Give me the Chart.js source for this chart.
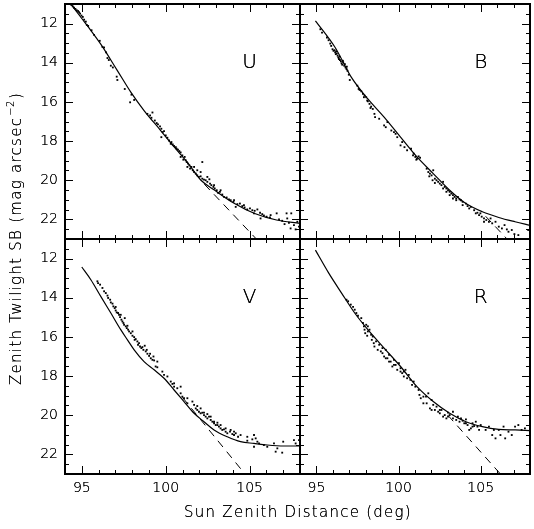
<!DOCTYPE html>
<html><head><meta charset="utf-8">
<script src="https://cdn.jsdelivr.net/npm/chart.js@4/dist/chart.umd.min.js"></script>
<style>
html,body{margin:0;padding:0;background:#fff;}
#wrap{position:relative;width:534px;height:529px;overflow:hidden;background:#fff;}
canvas{position:absolute;left:0;top:0;}
</style></head><body><div id="wrap">
<canvas id="c0" width="534" height="529"></canvas>
<canvas id="c1" width="534" height="529"></canvas>
<canvas id="c2" width="534" height="529"></canvas>
<canvas id="c3" width="534" height="529"></canvas>
</div>
<script>
// ---- axis / tick definitions ----
const xMin = 94, xMax = 108;
const yMin = 11, yMax = 23;
const xTickValues = [94,95,96,97,98,99,100,101,102,103,104,105,106,107,108];
const xLabelValues = [95,100,105];
const yTickValues = [11,11.5,12,12.5,13,13.5,14,14.5,15,15.5,16,16.5,17,17.5,18,18.5,19,19.5,20,20.5,21,21.5,22,22.5,23];
const yLabelValues = [12,14,16,18,20,22];
const panelNames = ['U','B','V','R'];
const xTitle = 'Sun Zenith Distance (deg)';
const yTitleMain = 'Zenith Twilight SB (mag arcsec';
const yTitleSup = '\u22122';
const yTitleEnd = ')';

// ---- U band ----
const uObs = [
[94.38,11.05],[94.46,11.12],[94.54,11.19],[94.62,11.25],[94.70,11.32],[94.78,11.36],[94.84,11.42],[94.90,11.49],[94.98,11.59],[95.06,11.66],[95.14,11.80],[95.24,11.90],[95.30,12.07],[95.38,12.12],[95.58,12.34],[95.73,12.58],[96.07,12.88],[96.23,13.19],[96.33,13.22],[96.45,13.47],[96.53,13.76],[96.61,13.86],[96.73,14.15],[96.85,14.24],[97.08,14.71],[97.12,14.88],[97.56,15.34],[97.88,16.02],[97.96,15.63],[98.12,15.90],
[98.91,16.61],[99.07,16.69],[99.21,16.54],[99.15,16.81],[99.35,16.95],[99.46,17.08],[99.54,17.15],[99.66,17.25],[99.74,17.37],[99.82,17.54],[99.74,17.80],[99.90,17.49],[100.00,17.71],[100.10,17.83],[100.20,17.97],[100.30,18.14],[100.34,18.05],[100.42,18.17],[100.50,18.25],[100.60,18.31],[100.65,18.39],[100.73,18.44],[100.81,18.51],[100.89,18.58],[100.89,18.81],[100.99,18.73],[101.05,18.95],[101.13,18.81],[101.19,18.98],[101.25,19.07],[101.33,19.15],[101.41,19.24],[101.29,19.32],[101.45,19.41],[101.53,19.32],[101.61,19.49],[101.69,19.58],[101.79,19.66],[101.88,19.75],[101.98,19.83],[102.08,19.80],[102.18,19.07],[102.18,19.92],[102.28,19.97],[102.38,20.00],[102.48,20.08],[102.60,19.95],[102.64,20.17],[102.72,20.25],[102.84,20.34],[102.92,20.42],[103.04,20.51],[103.12,20.64],[103.23,20.59],[103.37,20.73],[103.47,20.85],[103.63,20.88],[103.77,20.98],[103.87,21.02],[104.03,21.10],[104.17,21.36],[104.27,21.22],[104.42,21.19],[104.56,21.32],[104.70,21.39],[104.86,21.49],[105.02,21.44],[105.16,21.53],[105.30,21.56],[105.46,21.49],[105.62,21.66],[105.75,21.73],[105.85,21.80],[106.01,21.86],[106.21,21.90],[106.61,21.69],[106.75,22.00],[106.94,22.07],[107.08,22.24],[107.20,21.69],[107.24,21.95],[107.34,22.17],[107.44,22.46],[107.48,21.69],[107.64,22.29],[107.74,22.51],[107.84,22.12],[107.94,22.37],
[101.69,19.32],[101.88,19.49],[102.08,19.58],[102.48,19.83],[102.88,20.25],[103.27,20.51],[104.07,21.02],[104.66,21.27],[105.26,21.69],[105.65,21.95],[106.25,21.78]
];
const uModel = [[94.35,11.0],[95.0,11.74],[95.34,12.12],[96.13,13.05],[97.12,14.4],[97.92,15.5],[98.71,16.44],[99.7,17.46],[100.5,18.3],[101.3,19.1],[102.1,20.0],[102.9,20.5],[104.1,21.19],[105.3,21.7],[106.6,22.03],[108.0,22.2]];
const uNoGlow = [[102.3,20.2],[105.4,23.0]];

// ---- B band ----
const bObs = [
[95.24,12.29],[95.34,12.46],[95.64,12.71],[95.74,12.85],[95.84,13.02],[95.90,13.14],[95.98,13.31],[96.04,13.39],[96.14,13.47],[96.18,13.56],[96.24,13.53],[96.29,13.64],[96.33,13.73],[96.37,13.81],[96.43,13.86],[96.49,13.93],[96.53,14.03],[96.57,14.10],[96.63,13.98],[96.69,14.15],[96.77,14.24],[96.83,14.32],[96.89,14.41],[96.97,14.61],[97.03,14.88],[97.49,15.17],[97.57,15.34],[97.73,15.46],[97.83,15.59],[97.93,15.68],[98.03,15.76],[98.09,15.93],[98.23,16.10],[98.33,16.24],[98.43,16.36],[98.53,16.61],[98.57,16.78],[98.82,16.86],[99.12,17.20],[99.32,17.03],[99.56,17.46],[99.72,17.54],[99.92,17.80],[100.12,18.22],[100.22,18.05],[100.36,18.31],[100.52,18.47],[100.76,18.39],[100.92,18.64],[101.02,18.81],[101.12,18.90],[101.22,18.78],[101.31,18.85],[101.71,19.41],[101.81,19.58],[101.91,19.66],[102.01,19.75],[102.11,19.49],[102.21,19.92],[102.31,20.00],[102.41,20.08],[102.51,20.17],[102.61,20.25],[102.71,20.08],[102.81,20.34],[102.91,20.42],[103.01,20.51],[103.11,20.59],[103.21,20.68],[103.31,20.76],[103.41,20.85],[103.51,20.93],[103.61,20.85],[103.71,20.98],[103.80,21.02],[103.90,21.10],[104.10,21.19],[104.20,21.32],[104.40,21.36],[104.60,21.53],[104.80,21.66],[104.90,21.78],[105.06,21.86],[105.20,21.95],[105.34,22.03],[105.50,22.12],[105.70,22.20],[105.90,22.12],[106.10,22.37],[106.29,22.46],[106.45,22.29],[106.59,22.51],[106.69,22.63],[106.89,22.54],[107.05,22.75],[107.29,22.80],[107.89,22.54],
[102.71,20.42],[102.91,20.59],[103.11,20.76],[103.31,20.93],[103.51,21.02],[103.90,21.27],[104.30,21.44],[104.70,21.69],[104.98,21.69],[105.20,22.12],[105.60,21.95],
[96.10,13.36],[96.20,13.42],[96.41,13.69],[96.61,13.90],[96.73,14.07],[96.85,14.20],[97.63,15.39],[97.89,15.76],[98.13,15.97],[98.29,16.31],[99.22,17.29],[99.82,17.63],[100.88,18.73],[101.08,18.95],[101.87,19.80],[102.07,20.00],[102.21,20.14]
];
const bModel = [[94.94,11.86],[96.14,13.22],[97.13,14.75],[98.13,15.85],[99.12,16.78],[100.12,17.8],[101.12,18.81],[102.11,19.66],[103.11,20.51],[104.10,21.19],[105.10,21.61],[106.10,21.9],[107.09,22.12],[108.0,22.3]];
const bNoGlow = [[105.3,21.84],[106.6,23.0]];

// ---- V band ----
const vObs = [
[95.93,13.16],[95.97,13.25],[96.09,13.33],[96.23,13.50],[96.33,13.67],[96.43,13.76],[96.53,13.89],[96.57,14.01],[96.69,14.10],[96.73,14.24],[96.83,14.30],[96.88,14.44],[96.96,14.53],[97.02,14.65],[97.08,14.75],[97.16,14.78],[97.22,14.87],[97.28,14.99],[97.36,15.12],[97.42,15.21],[97.48,15.29],[97.56,15.04],[97.62,15.46],[97.68,15.55],[97.76,15.63],[97.82,15.72],[97.92,15.81],[98.02,15.94],[98.12,16.01],[98.21,16.11],[98.31,16.23],[98.35,16.40],[98.47,16.49],[98.55,16.57],[98.67,16.66],[98.75,16.45],[98.81,16.74],[98.91,16.86],[99.01,16.97],[99.11,17.09],[99.21,17.17],[99.31,17.20],[99.40,17.51],[99.50,17.55],[99.80,17.77],[99.90,17.94],[100.10,18.02],[100.30,18.28],[100.40,18.40],[100.50,18.54],[100.69,18.62],[100.89,18.88],[100.99,19.05],[101.09,19.13],[101.29,19.39],[101.59,19.30],[101.69,19.47],[101.79,19.65],[101.88,19.73],[101.98,19.82],[102.08,19.90],[102.18,19.87],[102.28,19.99],[102.38,20.07],[102.48,20.16],[102.58,20.07],[102.68,20.24],[102.78,20.33],[102.88,20.41],[102.98,20.50],[103.08,20.50],[103.17,20.58],[103.27,20.67],[103.37,20.75],[103.47,20.72],[103.57,20.84],[103.67,20.92],[103.83,20.84],[103.97,20.96],[104.07,21.01],[104.17,20.92],[104.31,21.10],[104.46,21.01],[104.86,21.30],[105.16,21.23],[105.26,21.01],[105.36,21.18],[105.46,21.35],[105.56,21.44],[105.85,21.52],[106.05,21.61],[106.45,21.44],[106.55,21.86],[106.65,21.69],[106.94,21.91],[107.00,21.35],[107.64,21.27],[107.74,21.44],[107.94,21.27],[105.26,21.61],[104.86,21.10],
[97.02,14.47],[97.32,14.87],[97.52,15.38],[97.72,15.43],[98.02,15.72],[98.15,16.15],[98.41,16.32],[98.61,16.52],[98.87,16.66],[99.07,16.86],[99.27,17.00],[99.50,17.26],[100.50,18.37],[100.89,18.54],[101.29,19.13],[101.88,19.53],[102.08,19.65],[102.28,19.87],[102.48,19.94],[102.68,20.07],[102.88,20.33],[103.08,20.38],[103.27,20.50],[103.57,20.67],[103.87,20.75],[104.07,20.84]
];
const vModel = [[95.0,12.43],[95.54,13.08],[96.13,13.93],[96.73,14.78],[97.32,15.63],[97.72,16.15],[98.12,16.66],[98.71,17.26],[99.31,17.68],[99.9,18.11],[100.5,18.71],[101.09,19.3],[101.69,19.9],[102.28,20.33],[102.88,20.75],[103.67,21.1],[104.46,21.35],[105.26,21.44],[106.05,21.52],[107.04,21.57],[108.0,21.57]];
const vNoGlow = [[101.0,19.09],[104.72,23.0]];

// ---- R band ----
const rObs = [
[96.83,14.10],[96.93,14.18],[97.09,14.35],[97.23,14.47],[97.33,14.61],[97.43,14.78],[97.53,14.92],[97.73,15.04],[97.83,15.29],[97.89,15.46],[97.93,15.63],[97.97,15.81],[98.03,15.38],[98.09,15.94],[98.13,15.72],[98.23,15.63],[98.33,15.89],[98.37,16.15],[98.49,16.32],[98.53,16.49],[98.63,16.23],[98.73,16.66],[98.82,16.40],[98.92,16.74],[99.02,16.83],[99.12,17.00],[99.22,16.66],[99.32,17.09],[99.42,16.91],[99.52,17.26],[99.62,17.51],[99.72,17.17],[99.82,17.43],[99.92,17.68],[100.02,17.34],[100.12,17.60],[100.22,17.85],[100.32,18.02],[100.42,17.68],[100.52,18.11],[100.72,18.19],[100.82,18.45],[100.92,18.28],[101.22,18.71],[101.27,18.96],[101.35,19.13],[101.51,19.39],[101.67,19.05],[101.81,18.88],[101.91,19.65],[102.01,19.22],[102.11,19.47],[102.21,19.73],[102.31,19.56],[102.41,19.82],[102.51,19.90],[102.61,19.73],[102.71,20.07],[102.81,19.99],[102.91,20.16],[103.01,19.87],[103.11,19.99],[103.31,19.82],[103.51,20.24],[103.61,20.07],[103.71,20.33],[103.80,20.16],[103.90,20.28],[104.00,20.41],[104.10,20.21],[104.20,20.50],[104.30,20.75],[104.40,20.67],[104.50,20.41],[104.60,20.55],[104.70,20.33],[104.80,20.58],[104.90,20.75],[105.00,20.50],[105.30,20.75],[105.50,20.58],[105.70,21.01],[105.80,20.75],[105.90,21.18],[106.10,20.75],[106.20,21.01],[106.39,20.58],[106.49,21.18],[106.69,20.84],[106.89,21.01],[107.09,20.58],[107.29,20.50],[107.49,20.75],[107.69,20.67],
[98.13,15.46],[98.43,15.98],[99.02,16.57],[99.22,17.09],[99.42,17.26],[99.72,17.43],[100.12,17.77],[100.32,17.77],[100.62,17.94],[101.02,18.54],[101.51,19.05],[101.71,19.39],[102.01,19.73],[102.51,19.73],[103.01,20.07],[103.31,20.16],[104.10,20.41],[104.50,20.58]
];
const rModel = [[94.94,11.57],[95.74,12.73],[96.53,13.76],[97.33,14.78],[98.13,15.63],[99.12,16.57],[100.12,17.51],[101.12,18.54],[102.11,19.30],[103.11,19.90],[104.10,20.33],[105.10,20.58],[106.10,20.72],[107.09,20.75],[108.0,20.79]];
const rNoGlow = [[103.0,20.0],[106.2,23.0]];

const panelObs = [uObs,bObs,vObs,rObs];
const panelModel = [uModel,bModel,vModel,rModel];
const panelNoGlow = [uNoGlow,bNoGlow,vNoGlow,rNoGlow];

// ---- layout (chart area of each panel) ----
const W = 534, H = 529;
const colL = [65, 300], colR = [300, 534];
const rowT = [3, 239], rowB = [239, 474];

const FONT = '"DejaVu Sans", sans-serif';

function darkText(ctx, s, x, y) { ctx.fillText(s, x, y); ctx.fillText(s, x, y); }

function fitSpacing(ctx, s, target) {
  ctx.letterSpacing = '0px';
  const w = ctx.measureText(s).width;
  const ls = (target - w) / s.length;
  ctx.letterSpacing = ls.toFixed(2) + 'px';
  return ls;
}

const framePlugin = {
  id: 'frame',
  afterDraw(chart, args, o) {
    const ctx = chart.ctx, a = chart.chartArea;
    const xs = chart.scales.x, ys = chart.scales.y;
    ctx.save();
    ctx.strokeStyle = '#000';
    ctx.lineWidth = 1;
    ctx.beginPath();
    xTickValues.forEach(v => {
      const p = Math.round(xs.getPixelForValue(v)) + 0.5;
      const L = xLabelValues.includes(v) ? 8 : 4;
      ctx.moveTo(p, a.top); ctx.lineTo(p, a.top + L);
      ctx.moveTo(p, a.bottom); ctx.lineTo(p, a.bottom - L);
    });
    yTickValues.forEach(v => {
      const p = Math.round(ys.getPixelForValue(v)) + 0.5;
      const L = yLabelValues.includes(v) ? 8 : 4;
      ctx.moveTo(a.left, p); ctx.lineTo(a.left + L, p);
      ctx.moveTo(a.right, p); ctx.lineTo(a.right - L, p);
    });
    ctx.stroke();
    ctx.lineWidth = 2;
    ctx.strokeRect(a.left, a.top, a.right - a.left, a.bottom - a.top);

    ctx.fillStyle = '#000';
    if (o.leftLabels) {
      ctx.font = '200 14px ' + FONT;
      ctx.textAlign = 'right'; ctx.textBaseline = 'middle';
      yLabelValues.forEach(v => darkText(ctx, String(v), a.left - 7, ys.getPixelForValue(v)));
    }
    if (o.bottomLabels) {
      ctx.font = '200 14px ' + FONT;
      ctx.textAlign = 'center'; ctx.textBaseline = 'top';
      xLabelValues.forEach(v => darkText(ctx, String(v), xs.getPixelForValue(v), a.bottom + 7));
    }
    // panel letter
    ctx.font = '200 20px ' + FONT;
    ctx.textAlign = 'center'; ctx.textBaseline = 'middle';
    darkText(ctx, o.letter, xs.getPixelForValue(105), ys.getPixelForValue(14));

    if (o.titles) {
      // x title
      ctx.font = '200 15px ' + FONT;
      ctx.textAlign = 'left'; ctx.textBaseline = 'middle';
      fitSpacing(ctx, xTitle, 228);
      darkText(ctx, xTitle, 184, 513);
      // y title (rotated), composed of main text + superscript + closing paren
      ctx.save();
      ctx.translate(17, 385);
      ctx.rotate(-Math.PI / 2);
      ctx.font = '200 15px ' + FONT;
      const ls = fitSpacing(ctx, yTitleMain, 268);
      darkText(ctx, yTitleMain, 0, 0);
      let xx = ctx.measureText(yTitleMain).width;
      ctx.font = '200 10px ' + FONT;
      ctx.letterSpacing = '0.5px';
      darkText(ctx, yTitleSup, xx + 1, -6);
      xx += ctx.measureText(yTitleSup).width + 2;
      ctx.font = '200 15px ' + FONT;
      ctx.letterSpacing = '0px';
      darkText(ctx, yTitleEnd, xx, 0);
      ctx.restore();
    }
    ctx.restore();
  }
};

function toPts(arr) { return arr.map(p => ({x: p[0], y: p[1]})); }

for (let i = 0; i < 4; i++) {
  const c = i % 2, r = Math.floor(i / 2);
  const pad = {
    left: colL[c], right: W - colR[c],
    top: rowT[r], bottom: H - rowB[r]
  };
  new Chart(document.getElementById('c' + i), {
    type: 'scatter',
    data: {
      datasets: [
        { data: toPts(panelObs[i]), pointStyle: 'rect', pointRadius: 1.3, pointBorderWidth: 0,
          backgroundColor: '#000', borderColor: '#000', showLine: false },
        { data: toPts(panelModel[i]), showLine: true, pointRadius: 0, borderColor: '#000',
          borderWidth: 1.2, cubicInterpolationMode: 'monotone', fill: false },
        { data: toPts(panelNoGlow[i]), showLine: true, pointRadius: 0, borderColor: '#000',
          borderWidth: 1, borderDash: [8, 6], fill: false }
      ]
    },
    options: {
      responsive: false, animation: false, devicePixelRatio: 1,
      layout: { padding: pad },
      plugins: {
        legend: { display: false }, tooltip: { enabled: false }, title: { display: false },
        frame: { letter: panelNames[i], leftLabels: c === 0, bottomLabels: r === 1, titles: i === 2 }
      },
      scales: {
        x: { type: 'linear', min: xMin, max: xMax, display: false },
        y: { type: 'linear', min: yMin, max: yMax, reverse: true, display: false }
      }
    },
    plugins: [framePlugin]
  });
}
</script></body></html>
